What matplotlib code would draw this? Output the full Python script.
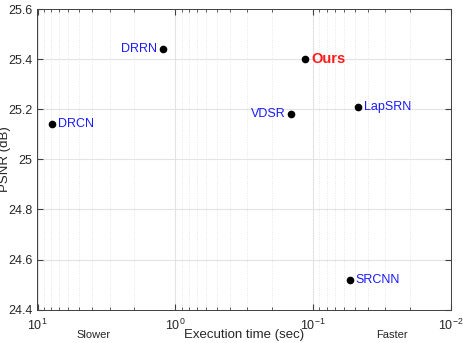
import matplotlib
matplotlib.use("Agg")
import matplotlib.pyplot as plt
from matplotlib.ticker import FixedLocator, FuncFormatter, LogLocator, NullFormatter

plt.rcParams['font.family'] = ['Liberation Sans', 'DejaVu Sans']

methods = ["DRCN", "DRRN", "VDSR", "Ours", "LapSRN", "SRCNN"]
times = [7.85, 1.23, 0.144, 0.115, 0.0472, 0.0542]
psnr = [25.14, 25.44, 25.18, 25.40, 25.21, 24.52]
label_side = ["right", "left", "left", "right", "right", "right"]
yticks = [24.4, 24.6, 24.8, 25.0, 25.2, 25.4, 25.6]
ytick_labels = ["24.4", "24.6", "24.8", "25", "25.2", "25.4", "25.6"]
xticks = [10, 1, 0.1, 0.01]
xtick_labels = [r"$\mathregular{10^{1}}$", r"$\mathregular{10^{0}}$", r"$\mathregular{10^{-1}}$", r"$\mathregular{10^{-2}}$"]

fig = plt.figure(figsize=(4.64, 3.43), dpi=100)
ax = fig.add_axes([37.5/464, 1-309.7/343, (451-37.5)/464, (309.7-9)/343])

ax.set_xscale('log')
ax.set_xlim(10, 0.01)
ax.set_ylim(24.4, 25.6)

ax.xaxis.set_major_locator(FixedLocator(xticks))
ax.xaxis.set_major_formatter(FuncFormatter(lambda v, p: xtick_labels[xticks.index(min(xticks, key=lambda t: abs(t - v)))]))
ax.xaxis.set_minor_locator(LogLocator(base=10, subs=range(2, 10)))
ax.xaxis.set_minor_formatter(NullFormatter())
ax.set_yticks(yticks)
ax.set_yticklabels(ytick_labels)

ax.grid(True, which='major', color='#e3e3e3', linewidth=0.8, linestyle='-')
ax.grid(True, which='minor', axis='x', color='#d0d0d0', linewidth=0.5, linestyle=(0, (1, 2.5)))
ax.set_axisbelow(True)

for s in ax.spines.values():
    s.set_color('#404040')
    s.set_linewidth(0.7)
ax.tick_params(which='both', direction='in', top=True, right=True, colors='#404040', labelcolor='#262626', labelsize=9)
ax.tick_params(which='major', length=4)
ax.tick_params(which='minor', length=2.5)
ax.tick_params(axis='x', pad=6)

ax.plot(times, psnr, 'o', color='black', markersize=4.5, linestyle='none', zorder=3)

for m, t, p, side in zip(methods, times, psnr, label_side):
    if m == "Ours":
        ax.annotate(m, (t, p), xytext=(5, 0), textcoords='offset points', ha='left', va='center',
                    color='#ff1a1a', fontsize=10.5, fontweight='bold')
    elif side == "right":
        ax.annotate(m, (t, p), xytext=(4, 0), textcoords='offset points', ha='left', va='center',
                    color='#1a1aff', fontsize=9)
    else:
        ax.annotate(m, (t, p), xytext=(-4, 0), textcoords='offset points', ha='right', va='center',
                    color='#1a1aff', fontsize=9)

ax.set_xlabel("Execution time (sec)", fontsize=9.5, color='#262626', labelpad=-3)
ax.set_ylabel("PSNR (dB)", fontsize=9.5, color='#262626')
ax.yaxis.set_label_coords((11 - 37.5) / 413.5, 0.5)

fig.text(94/464, 1-335/343, "Slower", fontsize=8, color='#262626', ha='center', va='center')
fig.text(392/464, 1-335/343, "Faster", fontsize=8, color='#262626', ha='center', va='center')

fig.savefig("out.png", dpi=100)
